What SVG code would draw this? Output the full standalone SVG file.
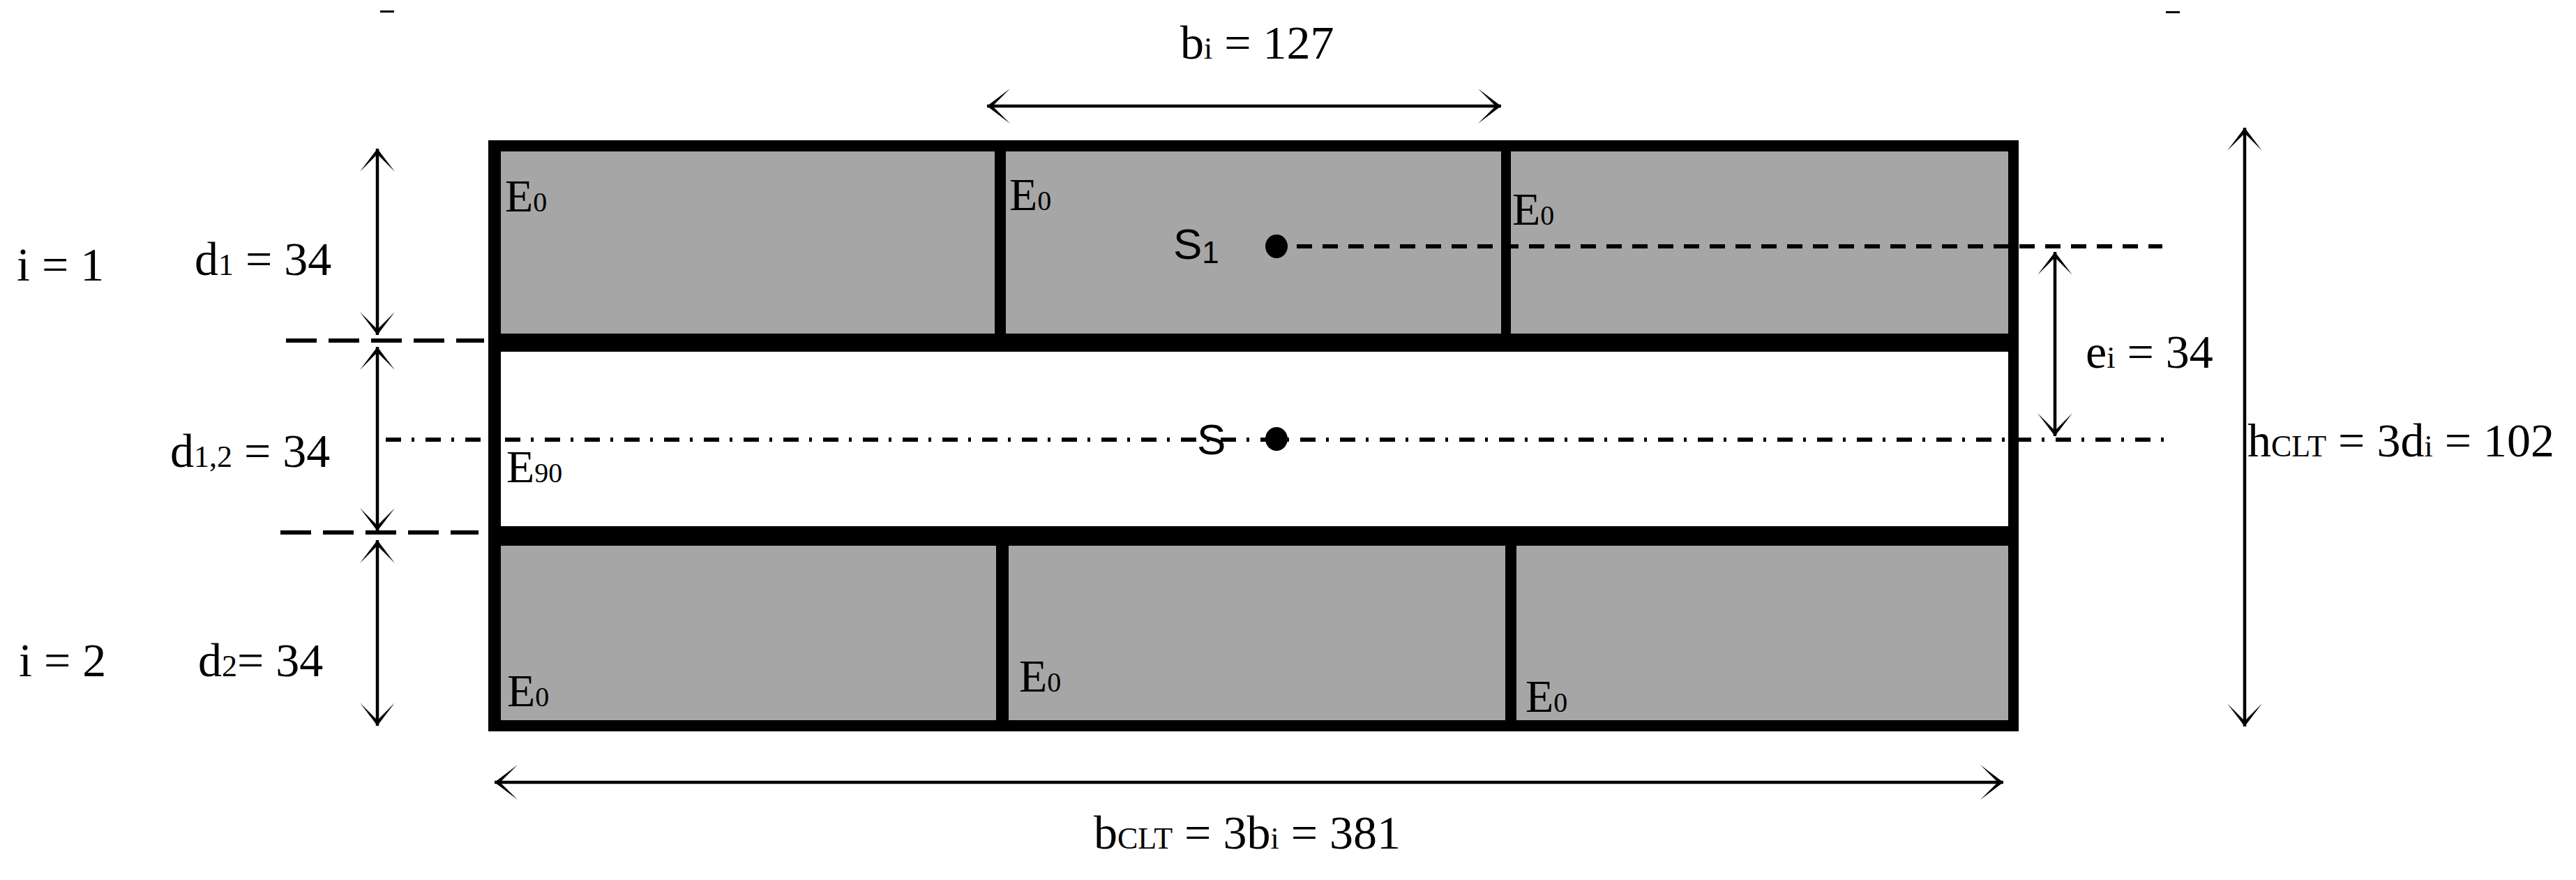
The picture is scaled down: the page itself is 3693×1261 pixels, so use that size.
<svg xmlns="http://www.w3.org/2000/svg" width="3693" height="1261" viewBox="0 0 3693 1261">
<style>
.t{font-family:"Liberation Serif","Times New Roman",serif;font-size:68px;fill:#000}
.s{font-size:44px}
.e{font-family:"Liberation Serif","Times New Roman",serif;font-size:66px;fill:#000}
.es{font-size:40px}
.sans{font-family:"Liberation Sans",Arial,sans-serif;font-size:62px;fill:#000}
.gray{fill:#a6a6a6}
.dim{stroke:#000;stroke-width:4.5;fill:none;marker-start:url(#ah);marker-end:url(#ah)}
.dash{stroke:#000;stroke-width:6;fill:none;stroke-dasharray:44 17}
.dash2{stroke:#000;stroke-width:6;fill:none;stroke-dasharray:22 15}
.dashdot{stroke:#000;stroke-width:6;fill:none;stroke-dasharray:22 15 4 16}
</style>
<defs>
<marker id="ah" markerUnits="userSpaceOnUse" viewBox="-40 -30 45 60" refX="0" refY="0" markerWidth="45" markerHeight="60" orient="auto-start-reverse" overflow="visible">
<path d="M0,0 L-33,-25 L-8,0 L-33,25 Z" fill="#000"/>
</marker>
</defs>
<rect width="3693" height="1261" fill="#fff"/>

<g id="ticks">
<rect x="545" y="15" width="20" height="3" fill="#000"/>
<rect x="3105" y="16" width="20" height="3" fill="#000"/>
</g>

<g id="clt-section">
<rect x="700" y="201" width="2194" height="847" fill="#000"/>
<g id="layer-top">
<rect class="gray" x="718" y="217" width="708" height="261"/>
<rect class="gray" x="1442" y="217" width="710" height="261"/>
<rect class="gray" x="2166" y="217" width="713" height="261"/>
</g>
<g id="layer-middle">
<rect x="718" y="504" width="2161" height="250" fill="#fff"/>
</g>
<g id="layer-bottom">
<rect class="gray" x="718" y="782" width="710" height="250"/>
<rect class="gray" x="1446" y="782" width="712" height="250"/>
<rect class="gray" x="2174" y="782" width="705" height="250"/>
</g>
</g>

<g id="connectors">
<line class="dash" x1="410" y1="488" x2="694" y2="488"/>
<line class="dash" x1="402" y1="763" x2="686" y2="763"/>
<line class="dash2" x1="1859" y1="353" x2="3100" y2="353"/>
<line class="dashdot" x1="553" y1="630" x2="3105" y2="630"/>
<line class="dim" x1="541" y1="213" x2="541" y2="480"/>
<line class="dim" x1="541" y1="497" x2="541" y2="761"/>
<line class="dim" x1="541" y1="774" x2="541" y2="1040"/>
<line class="dim" x1="1415" y1="152" x2="2152" y2="152"/>
<line class="dim" x1="2946" y1="361" x2="2946" y2="625"/>
<line class="dim" x1="3218" y1="183" x2="3218" y2="1041"/>
<line class="dim" x1="709" y1="1121" x2="2872" y2="1121"/>
</g>

<g id="centroids">
<ellipse cx="1830" cy="353" rx="16" ry="17" fill="#000"/>
<ellipse cx="1830" cy="629" rx="16" ry="17" fill="#000"/>
<text class="sans" x="1682" y="371">S<tspan font-size="44" dy="6">1</tspan></text>
<text class="sans" x="1716" y="651">S</text>
</g>

<g id="material-labels">
<text class="e" x="724" y="303">E<tspan class="es">0</tspan></text>
<text class="e" x="1447" y="301">E<tspan class="es">0</tspan></text>
<text class="e" x="2168" y="322">E<tspan class="es">0</tspan></text>
<text class="e" x="726" y="691">E<tspan class="es">90</tspan></text>
<text class="e" x="727" y="1012">E<tspan class="es">0</tspan></text>
<text class="e" x="1461" y="991">E<tspan class="es">0</tspan></text>
<text class="e" x="2187" y="1020">E<tspan class="es">0</tspan></text>
</g>

<g id="dimension-labels">
<text class="t" x="24" y="402">i = 1</text>
<text class="t" x="27" y="969">i = 2</text>
<text class="t" x="279" y="394">d<tspan class="s">1</tspan> = 34</text>
<text class="t" x="244" y="669">d<tspan class="s">1,2</tspan> = 34</text>
<text class="t" x="284" y="969">d<tspan class="s">2</tspan>= 34</text>
<text class="t" x="1692" y="84">b<tspan class="s">i</tspan> = 127</text>
<text class="t" x="2990" y="527">e<tspan class="s">i</tspan> = 34</text>
<text class="t" x="3222" y="654">h<tspan class="s">CLT</tspan> = 3d<tspan class="s">i</tspan> = 102</text>
<text class="t" x="1568" y="1216">b<tspan class="s">CLT</tspan> = 3b<tspan class="s">i</tspan> = 381</text>
</g>
</svg>
